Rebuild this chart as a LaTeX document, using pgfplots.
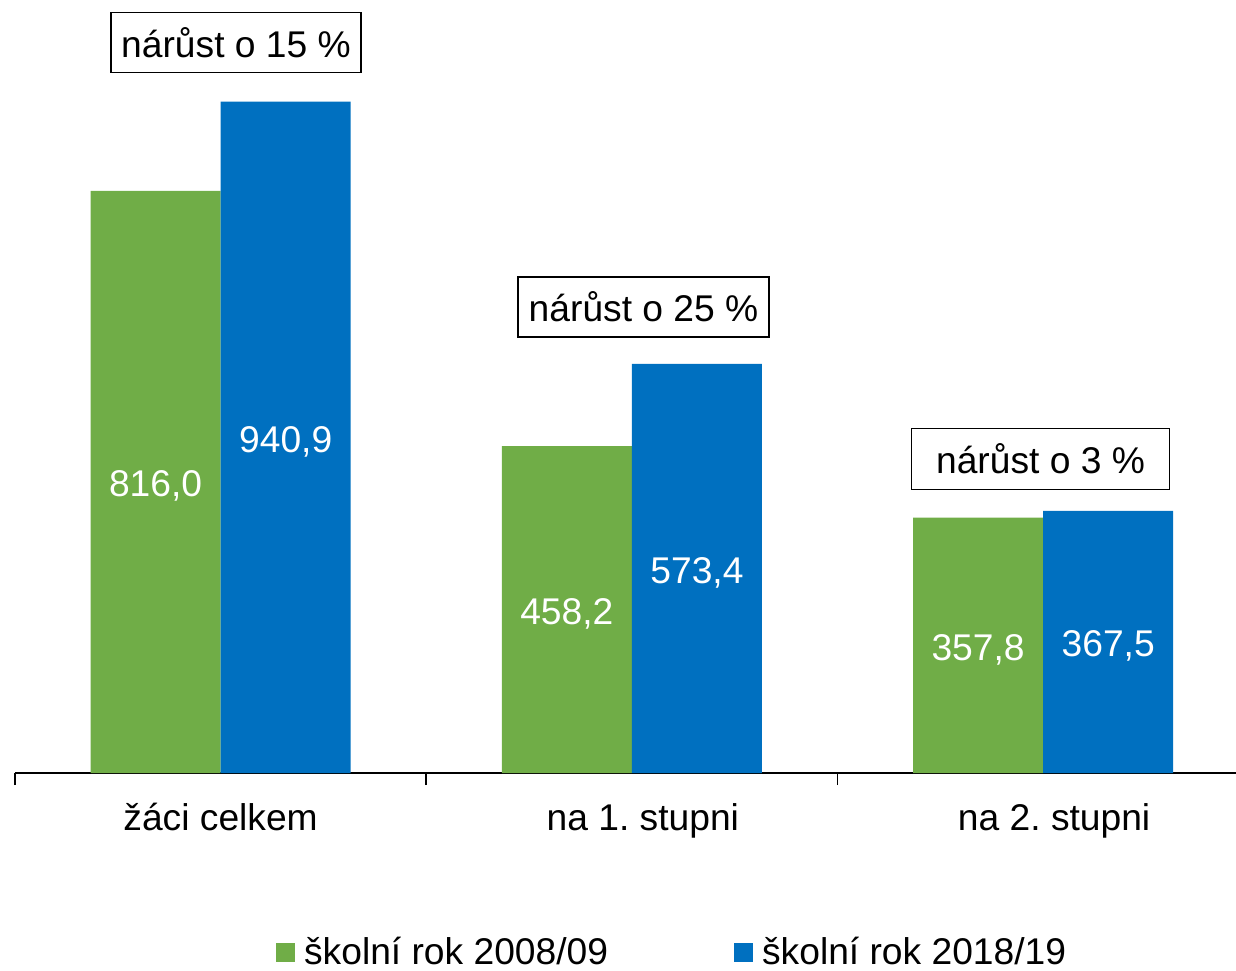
\documentclass[border=0pt]{standalone}
\usepackage{fontspec}
\setmainfont{Liberation Sans}
\usepackage{pgfplots}
\pgfplotsset{compat=1.18}
\definecolor{cGreen}{HTML}{70AD47}
\definecolor{cBlue}{HTML}{0070C0}
\frenchspacing

\begin{document}
\begin{tikzpicture}
\begin{axis}[
  scale only axis, x=205.625pt, y=0.35675pt,
  xmin=-0.5, xmax=2.469, ymin=0, ymax=1083.4,
  axis y line=none, axis x line*=bottom,
  x axis line style={black, line width=0.9pt},
  font=\fontsize{18.6}{22}\selectfont,
  xtick={0,1,2},
  xticklabels={žáci celkem,\hspace*{11pt}na 1. stupni,\hspace*{11pt}na 2. stupni},
  major tick length=0pt,
  xticklabel style={anchor=base, yshift=-28.8pt},
  extra x ticks={-0.5,0.5,1.5}, extra x tick labels={},
  extra x tick style={major tick length=6pt, tick align=outside,
    tick style={black, line width=0.9pt}},
  clip=false,
  /pgf/number format/.cd, use comma, fixed, fixed zerofill, precision=1, assume math mode=true,
  /pgfplots/.cd,
  legend columns=2,
  legend image code/.code={\fill[#1] (0pt,-4.75pt) rectangle (9.5pt,4.75pt); \path (12pt,0pt);},
  legend style={draw=none, fill=none, at={(0.539,-0.2316)}, anchor=center,
    font=\fontsize{18.6}{22}\selectfont,
    /tikz/column 2/.style={column sep=61pt}},
]
  \addplot[ybar, bar width=0.3163, bar shift=-0.1582, fill=cGreen, draw=none]
    coordinates {(0,816.0) (1,458.2) (2,357.8)};
  \addlegendentry{školní rok 2008/09}
  \addplot[ybar, bar width=0.3163, bar shift=0.1582, fill=cBlue, draw=none]
    coordinates {(0,940.9) (1,573.4) (2,367.5)};
  \addlegendentry{školní rok 2018/19}

  % value labels, centred inside the bars
  \addplot[draw=none, mark=none, forget plot, x filter/.expression={x-0.1582},
    y filter/.expression={y/2}, point meta=rawy, nodes near coords,
    every node near coord/.append style={anchor=center, text=white, yshift=-2.2pt}]
    coordinates {(0,816.0) (1,458.2) (2,357.8)};
  \addplot[draw=none, mark=none, forget plot, x filter/.expression={x+0.1582},
    y filter/.expression={y/2}, point meta=rawy, nodes near coords,
    every node near coord/.append style={anchor=center, text=white, yshift=-2.2pt}]
    coordinates {(0,940.9) (1,573.4) (2,367.5)};

  \node[draw, line width=0.75pt, minimum width=125pt, minimum height=30pt, inner sep=0pt]
    at (axis cs:0.0374,1023.8) {nárůst o 15 \%};
  \node[draw, line width=0.75pt, minimum width=125.5pt, minimum height=30pt, inner sep=0pt]
    at (axis cs:1.0283,653.1) {nárůst o 25 \%};
  \node[draw, line width=0.75pt, minimum width=128.8pt, minimum height=30.5pt, inner sep=0pt]
    at (axis cs:1.9937,440.4) {nárůst o 3 \%};

  \coordinate (bl) at (rel axis cs:-0.01229,-0.255);
  \coordinate (tr) at (rel axis cs:1,1);
\end{axis}
\pgfresetboundingbox
\useasboundingbox (bl) rectangle (tr);
\end{tikzpicture}
\end{document}
